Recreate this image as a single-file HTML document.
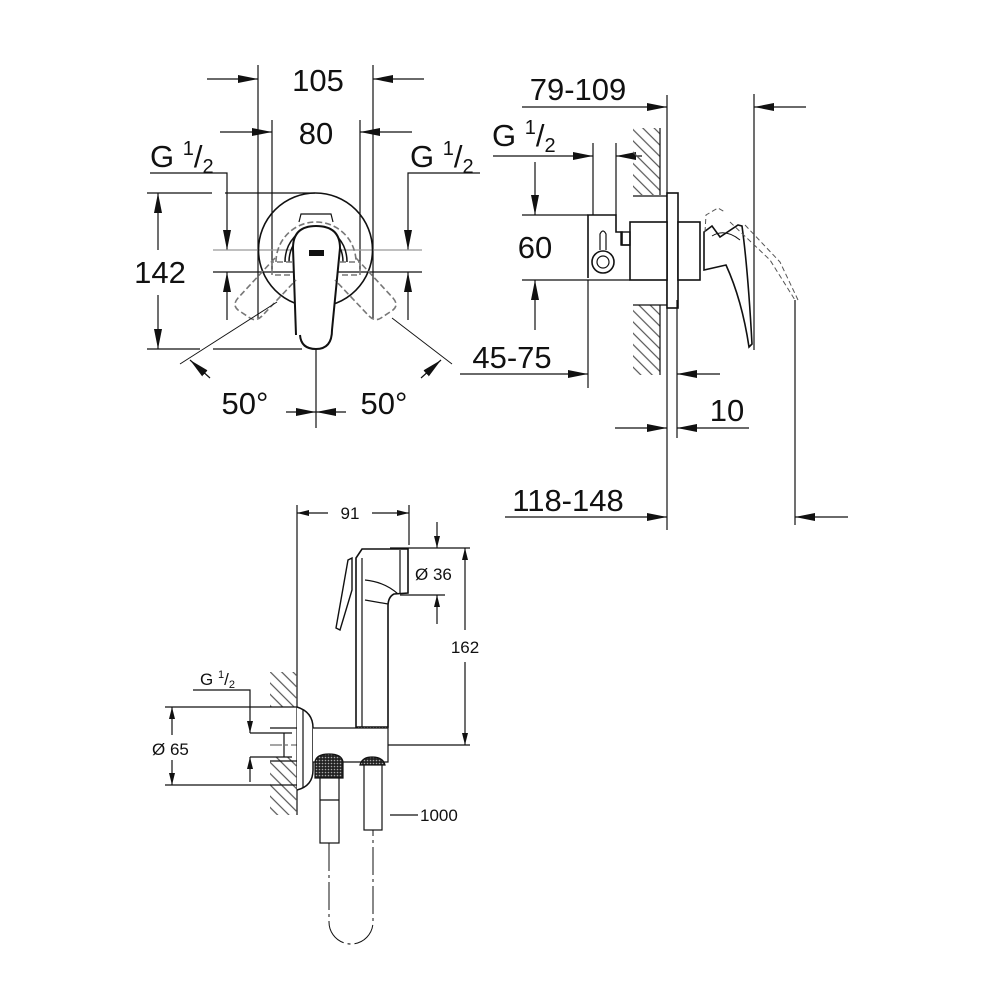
<!DOCTYPE html>
<html><head><meta charset="utf-8"><style>
html,body{margin:0;padding:0;background:#fff;}
svg{display:block;}
text{font-family:"Liberation Sans",sans-serif;fill:#111;}
</style></head><body>
<svg width="1000" height="1000" viewBox="0 0 1000 1000" xmlns="http://www.w3.org/2000/svg">
<defs>
<marker id="a" viewBox="0 0 20 10" refX="20" refY="5" markerWidth="20" markerHeight="10" markerUnits="userSpaceOnUse" orient="auto"><path d="M0,1 L20,5 L0,9 Z" fill="#111"/></marker>
<marker id="s" viewBox="0 0 12 8" refX="12" refY="4" markerWidth="12" markerHeight="8" markerUnits="userSpaceOnUse" orient="auto"><path d="M0,1 L12,4 L0,7 Z" fill="#111"/></marker>
<pattern id="h" width="8" height="8" patternUnits="userSpaceOnUse" patternTransform="rotate(-45)"><line x1="0" y1="0" x2="0" y2="8" stroke="#555" stroke-width="1.2" transform="translate(4,0)"/></pattern>
<pattern id="k" width="3" height="3" patternUnits="userSpaceOnUse"><rect width="3" height="3" fill="#222"/><circle cx="1.5" cy="1.5" r="0.8" fill="#aaa"/></pattern>
</defs>
<g stroke="#111" stroke-width="1.2" fill="none">
<!-- TOP LEFT VIEW -->
<line x1="258" y1="65" x2="258" y2="318"/>
<line x1="373" y1="65" x2="373" y2="318"/>
<line x1="207" y1="79" x2="258" y2="79" marker-end="url(#a)"/>
<line x1="424" y1="79" x2="373" y2="79" marker-end="url(#a)"/>
<line x1="272" y1="120" x2="272" y2="270"/>
<line x1="360" y1="120" x2="360" y2="270"/>
<line x1="220" y1="132" x2="272" y2="132" marker-end="url(#a)"/>
<line x1="412" y1="132" x2="360" y2="132" marker-end="url(#a)"/>
<polyline points="150,173 227,173 227,250" marker-end="url(#a)"/>
<polyline points="480,173 408,173 408,250" marker-end="url(#a)"/>
<line x1="213" y1="250" x2="422" y2="250" stroke="#999"/>
<line x1="213" y1="272" x2="422" y2="272"/>
<line x1="227" y1="320" x2="227" y2="272" marker-end="url(#a)"/>
<line x1="408" y1="320" x2="408" y2="272" marker-end="url(#a)"/>
<line x1="147" y1="193" x2="212" y2="193"/>
<line x1="225" y1="193" x2="315" y2="193"/>
<line x1="147" y1="349" x2="200" y2="349"/>
<line x1="213" y1="349" x2="302" y2="349"/>
<line x1="158" y1="250" x2="158" y2="193" marker-end="url(#a)"/>
<line x1="158" y1="295" x2="158" y2="349" marker-end="url(#a)"/>
<circle cx="315.5" cy="250" r="57" stroke-width="1.6"/>
<path d="M299,222 L301,214 L331,214 L333,222" />
<path d="M285,262 A31,35 0 0 1 347,262" stroke-width="1.5"/>
<path d="M289,262 A27,31 0 0 1 343,262" stroke-width="1.5"/>
<path d="M296,335 L293,248 Q293,226 316,226 Q340,226 340,248 L332,330 Q332,349 316,349 Q301,349 300,335" stroke-width="2" fill="#fff"/>
<rect x="309" y="250" width="15" height="6" fill="#111" stroke="none"/>
<g stroke="#777" stroke-dasharray="6,3" stroke-width="1.6">
<path d="M292,262 L272,262 L272,275 L292,275"/>
<path d="M340,262 L360,262 L360,275 L340,275"/>
<path d="M276,262 A40,40 0 0 1 356,262"/>
<path d="M275,258 L238,298 Q232,305 238,310 L250,318 Q256,322 262,316 L296,280"/>
<path d="M356,258 L393,298 Q399,305 393,310 L381,318 Q375,322 369,316 L335,280"/>
</g>
<line x1="180" y1="364" x2="277" y2="302" stroke-width="0.9"/>
<line x1="452" y1="364" x2="392" y2="318" stroke-width="0.9"/>
<line x1="210" y1="378" x2="190" y2="360" marker-end="url(#a)"/>
<line x1="421" y1="378" x2="441" y2="360" marker-end="url(#a)"/>
<line x1="316" y1="349" x2="316" y2="428"/>
<line x1="286" y1="412" x2="316" y2="412" marker-end="url(#a)"/>
<line x1="346" y1="412" x2="316" y2="412" marker-end="url(#a)"/>

<!-- TOP RIGHT VIEW -->
<line x1="667" y1="95" x2="667" y2="530"/>
<line x1="522" y1="107" x2="667" y2="107" marker-end="url(#a)"/>
<line x1="754" y1="94" x2="754" y2="350"/>
<line x1="806" y1="107" x2="754" y2="107" marker-end="url(#a)"/>
<line x1="493" y1="156" x2="593" y2="156" marker-end="url(#a)"/>
<line x1="593" y1="143" x2="593" y2="215"/>
<line x1="616" y1="143" x2="616" y2="215"/>
<line x1="642" y1="156" x2="616" y2="156" marker-end="url(#a)"/>
<rect x="633" y="128" width="27" height="67" fill="url(#h)" stroke="none"/>
<rect x="633" y="305" width="27" height="70" fill="url(#h)" stroke="none"/>
<line x1="660" y1="128" x2="660" y2="195"/>
<line x1="660" y1="305" x2="660" y2="375"/>
<line x1="633" y1="196" x2="667" y2="196"/>
<line x1="633" y1="305" x2="667" y2="305"/>
<rect x="667" y="193" width="11" height="115" fill="#fff" stroke-width="1.6"/>
<rect x="630" y="222" width="37" height="58" fill="#fff" stroke-width="1.6"/>
<rect x="678" y="222" width="22" height="58" fill="#fff" stroke-width="1.6"/>
<path d="M588,278 L588,215 L616,215 L616,232 L622,232 L622,245 L630,245" stroke-width="1.6"/>
<rect x="621" y="232" width="9" height="13" stroke-width="1.4"/>
<circle cx="603" cy="262" r="11" stroke-width="1.6"/>
<circle cx="603" cy="262" r="6"/>
<path d="M600,250 L600,234 Q603,228 606,234 L606,250" />
<line x1="522" y1="215" x2="588" y2="215"/>
<line x1="522" y1="280" x2="630" y2="280"/>
<line x1="535" y1="162" x2="535" y2="215" marker-end="url(#a)"/>
<line x1="535" y1="330" x2="535" y2="280" marker-end="url(#a)"/>
<path d="M704,232 L712,226 L720,237 L738,225 L742,226 Q748,270 752,344 L749,347 Q742,300 726,265 L704,270 Z" fill="#fff" stroke-width="1.6"/>
<path d="M712,236 Q725,228 740,240" stroke-width="1"/>
<g stroke="#555" stroke-dasharray="5,3" stroke-width="1">
<path d="M705,232 L706,215 L718,208 L725,212"/>
<path d="M730,222 L770,260 L795,300"/>
<path d="M745,225 L780,262 L798,300"/>
</g>
<line x1="795" y1="300" x2="795" y2="525"/>
<line x1="460" y1="374" x2="588" y2="374" marker-end="url(#a)"/>
<line x1="588" y1="280" x2="588" y2="388"/>
<line x1="677" y1="300" x2="677" y2="438"/>
<line x1="720" y1="374" x2="677" y2="374" marker-end="url(#a)"/>
<line x1="615" y1="428" x2="667" y2="428" marker-end="url(#a)"/>
<line x1="749" y1="428" x2="677" y2="428" marker-end="url(#a)"/>
<line x1="505" y1="517" x2="667" y2="517" marker-end="url(#a)"/>
<line x1="848" y1="517" x2="795" y2="517" marker-end="url(#a)"/>

<!-- BOTTOM VIEW -->
<line x1="297" y1="505" x2="297" y2="815"/>
<line x1="409" y1="505" x2="409" y2="545"/>
<line x1="328" y1="513" x2="297" y2="513" marker-end="url(#s)"/>
<line x1="372" y1="513" x2="409" y2="513" marker-end="url(#s)"/>
<rect x="270" y="672" width="27" height="35" fill="url(#h)" stroke="none"/>
<rect x="270" y="757" width="27" height="58" fill="url(#h)" stroke="none"/>
<line x1="270" y1="728" x2="297" y2="728"/>
<line x1="270" y1="761" x2="297" y2="761"/>
<line x1="284" y1="733" x2="284" y2="757"/>
<line x1="437" y1="522" x2="437" y2="548" marker-end="url(#s)"/>
<line x1="390" y1="548" x2="470" y2="548"/>
<line x1="400" y1="595" x2="445" y2="595"/>
<line x1="437" y1="624" x2="437" y2="595" marker-end="url(#s)"/>
<line x1="465" y1="630" x2="465" y2="548" marker-end="url(#s)"/>
<line x1="465" y1="662" x2="465" y2="745" marker-end="url(#s)"/>
<line x1="388" y1="745" x2="470" y2="745"/>
<line x1="270" y1="745" x2="388" y2="745" stroke-dasharray="12,3,3,3" stroke-width="0.8"/>
<path d="M356,727 L356,558 L362,549 L408,549 L408,593 L394,594 Q388,597 388,606 L388,727 Z" fill="#fff" stroke-width="1.6"/>
<line x1="400" y1="550" x2="400" y2="593"/>
<path d="M365,580 Q385,582 398,594" />
<path d="M365,600 L388,604" />
<line x1="362" y1="558" x2="362" y2="727"/>
<path d="M348,560 L352,558 L352,590 L340,630 L336,628 Z" fill="#fff" stroke-width="1.4"/>
<rect x="358" y="727" width="30" height="20" fill="url(#k)" stroke="none"/>
<path d="M297,707 Q313,712 313,728 L313,770 Q313,786 297,790" fill="#fff" stroke-width="1.5"/>
<line x1="303" y1="710" x2="303" y2="788"/>
<path d="M313,728 L388,728 L388,762 L313,762" fill="#fff"/>
<path d="M315,778 L315,762 Q316,754 329,754 Q342,754 343,762 L343,778 Z" fill="url(#k)"/>
<rect x="320" y="778" width="19" height="65" fill="#fff"/>
<line x1="320" y1="800" x2="339" y2="800"/>
<path d="M360,765 Q362,757 372,757 Q383,757 385,765 Z" fill="url(#k)"/>
<rect x="364" y="765" width="18" height="65" fill="#fff"/>
<path d="M329,843 L329,922 A22,22 0 0 0 373,922 L373,830" stroke-dasharray="28,4,3,4" stroke-width="1"/>
<line x1="390" y1="815" x2="418" y2="815"/>
<polyline points="193,690 250,690 250,733" marker-end="url(#s)"/>
<line x1="250" y1="733" x2="292" y2="733"/>
<line x1="250" y1="757" x2="292" y2="757"/>
<line x1="250" y1="782" x2="250" y2="757" marker-end="url(#s)"/>
<line x1="165" y1="707" x2="297" y2="707"/>
<line x1="165" y1="785" x2="297" y2="785"/>
<line x1="172" y1="735" x2="172" y2="707" marker-end="url(#s)"/>
<line x1="172" y1="760" x2="172" y2="785" marker-end="url(#s)"/>
</g>
<g font-size="31">
<text x="318" y="91" text-anchor="middle">105</text>
<text x="316" y="144" text-anchor="middle">80</text>
<text x="150" y="167">G <tspan font-size="20" dy="-12">1</tspan><tspan dy="12">/</tspan><tspan font-size="20" dy="6">2</tspan></text>
<text x="410" y="167">G <tspan font-size="20" dy="-12">1</tspan><tspan dy="12">/</tspan><tspan font-size="20" dy="6">2</tspan></text>
<text x="160" y="283" text-anchor="middle">142</text>
<text x="245" y="414" text-anchor="middle">50°</text>
<text x="384" y="414" text-anchor="middle">50°</text>
<text x="578" y="100" text-anchor="middle">79-109</text>
<text x="492" y="146">G <tspan font-size="20" dy="-12">1</tspan><tspan dy="12">/</tspan><tspan font-size="20" dy="6">2</tspan></text>
<text x="535" y="258" text-anchor="middle">60</text>
<text x="512" y="368" text-anchor="middle">45-75</text>
<text x="727" y="421" text-anchor="middle">10</text>
<text x="568" y="511" text-anchor="middle">118-148</text>
</g>
<g font-size="17">
<text x="350" y="519" text-anchor="middle">91</text>
<text x="415" y="580">Ø 36</text>
<text x="465" y="653" text-anchor="middle">162</text>
<text x="152" y="755">Ø 65</text>
<text x="200" y="685">G <tspan font-size="11" dy="-7">1</tspan><tspan dy="7">/</tspan><tspan font-size="11" dy="3">2</tspan></text>
<text x="420" y="821">1000</text>
</g>
</svg>
</body></html>
